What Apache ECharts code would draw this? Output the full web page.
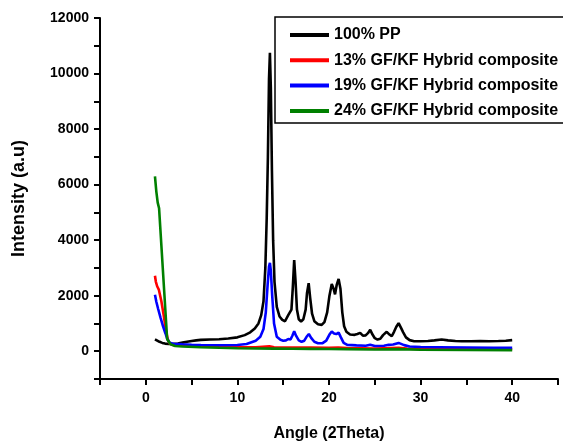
<!DOCTYPE html>
<html>
<head>
<meta charset="utf-8">
<script src="https://cdn.jsdelivr.net/npm/echarts@6/dist/echarts.min.js"></script>
<style>html,body{margin:0;padding:0;background:#fff}#c{width:563px;height:447px}</style>
</head>
<body>
<div id="c"></div>
<script>
const seriesNames = ['100% PP','13% GF/KF Hybrid composite','19% GF/KF Hybrid composite','24% GF/KF Hybrid composite'];
const seriesColors = ['#000000','#ff0000','#0000ff','#008000'];

const pp100 = [[1.0,430],[1.2,390],[1.5,340],[1.8,300],[2.1,275],[2.5,260],[3.0,265],[3.5,280],[4.0,310],[4.5,340],[5.0,370],[5.5,390],[6.0,410],[7.0,420],[8.0,430],[9.0,460],[10.0,500],[10.8,580],[11.4,680],[11.9,820],[12.3,1000],[12.6,1300],[12.85,1800],[13.05,3000],[13.2,4800],[13.33,7000],[13.45,9800],[13.55,10750],[13.65,9500],[13.77,6500],[13.9,4000],[14.05,2500],[14.3,1600],[14.6,1250],[14.9,1130],[15.2,1080],[15.4,1150],[15.55,1300],[15.7,1250],[15.9,1500],[16.05,2300],[16.2,3280],[16.35,2500],[16.5,1500],[16.7,1150],[16.95,1070],[17.2,1150],[17.45,1500],[17.6,2100],[17.78,2450],[17.95,1900],[18.15,1350],[18.4,1080],[18.8,970],[19.2,950],[19.5,1050],[19.8,1400],[20.05,2000],[20.3,2420],[20.5,2250],[20.66,2050],[20.85,2400],[21.05,2600],[21.25,2250],[21.45,1400],[21.65,900],[21.9,700],[22.3,600],[22.8,590],[23.1,620],[23.4,660],[23.7,560],[24.0,570],[24.25,650],[24.5,770],[24.75,600],[25.0,470],[25.3,420],[25.6,450],[25.9,580],[26.3,700],[26.6,600],[26.85,540],[27.1,700],[27.35,880],[27.6,1010],[27.85,850],[28.1,680],[28.4,500],[28.8,400],[29.3,360],[30.0,360],[30.8,370],[31.5,390],[32.3,420],[33.0,390],[33.8,370],[34.5,360],[35.5,360],[36.5,370],[37.5,360],[38.5,370],[39.3,380],[40.0,400]];

const gf13 = [[1.0,2720],[1.1,2500],[1.24,2340],[1.42,2220],[1.7,1800],[1.95,1300],[2.2,750],[2.4,420],[2.6,280],[3.0,220],[4.0,200],[6.0,180],[8.0,165],[10.0,150],[12.0,145],[13.5,175],[14.0,140],[16.0,135],[18.0,130],[20.0,125],[21.0,130],[22.0,115],[25.0,100],[27.6,120],[28.5,95],[30.0,85],[35.0,75],[40.0,70]];

const gf19 = [[1.0,2030],[1.15,1780],[1.35,1520],[1.6,1220],[1.9,880],[2.15,640],[2.35,440],[2.6,310],[3.0,270],[4.0,250],[5.0,235],[6.0,225],[8.0,215],[10.0,225],[11.0,260],[12.0,380],[12.5,520],[12.85,800],[13.1,1400],[13.3,2400],[13.45,3050],[13.55,3180],[13.65,2900],[13.8,2000],[14.0,1000],[14.3,520],[14.7,410],[15.0,380],[15.3,390],[15.55,440],[15.8,420],[16.0,560],[16.2,720],[16.4,560],[16.7,390],[17.0,340],[17.3,380],[17.55,520],[17.8,620],[18.05,480],[18.4,340],[18.8,290],[19.3,290],[19.7,380],[20.05,600],[20.3,710],[20.55,640],[20.8,620],[21.05,670],[21.3,500],[21.6,300],[22.0,230],[23.0,210],[24.0,200],[24.5,230],[25.0,190],[26.0,200],[26.5,230],[27.0,240],[27.6,300],[28.2,220],[28.8,170],[30.0,150],[32.0,145],[35.0,135],[38.0,125],[40.0,120]];

const gf24 = [[1.0,6300],[1.15,5750],[1.3,5350],[1.45,5150],[2.33,440],[2.7,250],[3.2,190],[4.0,170],[6.0,145],[8.0,125],[10.0,110],[12.0,100],[14.0,95],[16.0,90],[18.0,85],[20.0,80],[22.0,75],[25.0,65],[27.6,75],[30.0,55],[35.0,45],[40.0,40]];

const xTickLabels = [0,10,20,30,40];
const yTickLabels = [0,2000,4000,6000,8000,10000,12000];

const allData = [pp100, gf13, gf19, gf24];
const FONT = 'Liberation Sans, Arial, sans-serif';

const chart = echarts.init(document.getElementById('c'));
chart.setOption({
  animation: false,
  backgroundColor: '#fff',
  grid: {left: 100, right: 5, top: 18, bottom: 64.5, containLabel: false},
  legend: {
    data: seriesNames,
    orient: 'vertical',
    left: 275, top: 17,
    padding: [10, 6, 4, 15],
    itemWidth: 39, itemHeight: 4, itemGap: 9.3,
    icon: 'path://M0,0H39V4H0Z',
    borderColor: '#000', borderWidth: 1.5,
    backgroundColor: '#fff',
    textStyle: {fontFamily: FONT, fontWeight: 'bold', fontSize: 16, color: '#000'}
  },
  xAxis: {
    type: 'value', min: -5, max: 45, interval: 5,
    name: 'Angle (2Theta)', nameLocation: 'middle', nameGap: 47,
    nameTextStyle: {fontFamily: FONT, fontWeight: 'bold', fontSize: 16, color: '#000'},
    axisLine: {onZero: false, lineStyle: {color: '#000', width: 2}},
    axisTick: {length: 6, lineStyle: {color: '#000', width: 2}},
    splitLine: {show: false},
    axisLabel: {
      margin: 12, fontFamily: FONT, fontWeight: 'bold', fontSize: 14, color: '#000',
      formatter: v => xTickLabels.includes(v) ? String(v) : ''
    }
  },
  yAxis: {
    type: 'value', min: -1000, max: 12000, interval: 1000,
    name: 'Intensity (a.u)', nameLocation: 'middle', nameGap: 72,
    nameTextStyle: {fontFamily: FONT, fontWeight: 'bold', fontSize: 18, color: '#000'},
    axisLine: {show: true, onZero: false, lineStyle: {color: '#000', width: 2}},
    axisTick: {show: true, length: 6, lineStyle: {color: '#000', width: 2}},
    splitLine: {show: false},
    axisLabel: {
      margin: 11, fontFamily: FONT, fontWeight: 'bold', fontSize: 14, color: '#000',
      formatter: v => yTickLabels.includes(v) ? String(v) : ''
    }
  },
  series: seriesNames.map((n, i) => ({
    name: n, type: 'line', data: allData[i],
    showSymbol: false, symbol: 'none', smooth: false,
    lineStyle: {color: seriesColors[i], width: 2.6},
    itemStyle: {color: seriesColors[i]},
    z: 2 + i
  }))
});
</script>
</body>
</html>
